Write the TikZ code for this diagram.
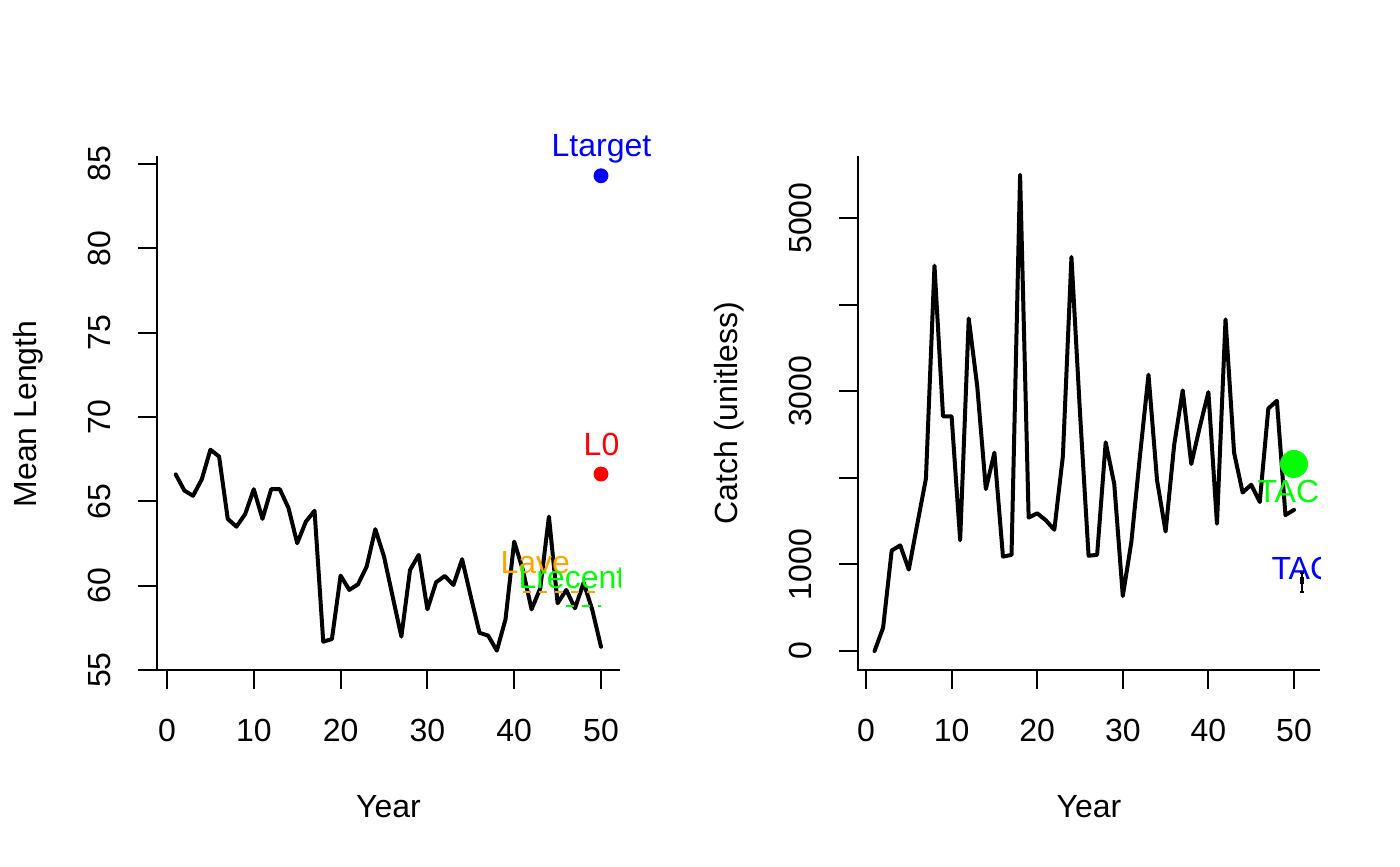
\documentclass[tikz,border=0pt]{standalone}
\usepackage{fontspec}
\setmainfont{Liberation Sans}
\definecolor{rorange}{RGB}{255,165,0}
\definecolor{rgreen}{RGB}{0,255,0}
\definecolor{rblue}{RGB}{0,0,255}
\definecolor{rred}{RGB}{255,0,0}
\begin{document}
\begin{tikzpicture}[x=0.375pt, y=-0.375pt,
    every node/.style={font=\fontsize{12}{14}\selectfont, inner sep=0pt},
    axisline/.style={line width=0.75pt},
    series/.style={line width=1.5pt, line join=round, line cap=round},
    refline/.style={line width=0.75pt, dash pattern=on 3pt off 3pt},
    refdot/.style={circle, fill, inner sep=0pt, minimum size=#1},
    lab/.style={anchor=base}]
  \useasboundingbox (0,0) rectangle (1400,866);

  % left panel: mean length
  \draw[axisline] (157,156) -- (157,670) -- (620,670);
  \foreach \yr in {0,10,...,50} {
    \draw[axisline] (167+8.68*\yr,670) -- (167+8.68*\yr,689);
    \node[lab] (lx\yr) at (167+8.68*\yr,741) {\yr};
  }
  \foreach \v in {55,60,...,85} {
    \draw[axisline] (138,1597.9-16.87*\v) -- (157,1597.9-16.87*\v);
    \node[lab, rotate=90] (ly\v) at (110.5,1597.9-16.87*\v) {\v};
  }
  \node[lab, rotate=90] (ylabl) at (36,414) {Mean Length};
  \node[lab] (xlabl) at (388.5,817) {Year};
  \node[lab, rblue] (ltarget) at (601.5,156) {Ltarget};
  \node[lab, rred] (lzero) at (601.5,455) {L0};
  \begin{scope}
    \clip (157,156) rectangle (620,670);
    \begin{scope}[shift={(167,1597.9)}, xscale=8.68, yscale=-16.87]
      \draw[series] plot coordinates {(1,66.6) (2,65.64) (3,65.33) (4,66.3) (5,68.06)
        (6,67.66) (7,63.96) (8,63.5) (9,64.24) (10,65.72) (11,63.96) (12,65.72)
        (13,65.72) (14,64.6) (15,62.52) (16,63.8) (17,64.44) (18,56.68) (19,56.84)
        (20,60.6) (21,59.75) (22,60.08) (23,61.13) (24,63.35) (25,61.73) (26,59.35)
        (27,56.98) (28,60.93) (29,61.83) (30,58.6) (31,60.2) (32,60.58) (33,60.04)
        (34,61.57) (35,59.35) (36,57.21) (37,57.04) (38,56.15) (39,58.01) (40,62.62)
        (41,60.93) (42,58.6) (43,59.84) (44,64.1) (45,58.96) (46,59.75) (47,58.66)
        (48,60.18) (49,58.56) (50,56.38)};
      \draw[refline, rorange] (41,59.65) -- (50,59.65);
      \draw[refline, rgreen] (46,58.8) -- (50,58.8);
      \node[refdot=5.6pt, rblue] (ltdot) at (50,84.3) {};
      \node[refdot=5.6pt, rred] (lzdot) at (50,66.62) {};
    \end{scope}
    \node[lab, anchor=base west, rorange] (lave) at (500,573) {Lave};
    \node[lab, anchor=base west, rgreen] (lrecent) at (518,588) {Lrecent};
  \end{scope}

  % right panel: catch
  \draw[axisline] (858,156) -- (858,670) -- (1320,670);
  \foreach \yr in {0,10,...,50} {
    \draw[axisline] (866+8.56*\yr,670) -- (866+8.56*\yr,689);
    \node[lab] (rx\yr) at (866+8.56*\yr,741) {\yr};
  }
  \foreach \k in {0,...,5}
    \draw[axisline] (839,651-86.6*\k) -- (858,651-86.6*\k);
  \foreach \k/\txt in {0/0,1/1000,3/3000,5/5000}
    \node[lab, rotate=90] (ry\k) at (811.5,651-86.6*\k) {\txt};
  \node[lab, rotate=90] (ylabr) at (737,413) {Catch (unitless)};
  \node[lab] (xlabr) at (1089,817) {Year};
  \begin{scope}
    \clip (858,156) rectangle (1320,670);
    \begin{scope}[shift={(866,651)}, xscale=8.56, yscale=-86.6]
      \draw[series] plot coordinates {(1,0) (2,0.27) (3,1.16) (4,1.22) (5,0.94)
        (6,1.47) (7,1.99) (8,4.45) (9,2.71) (10,2.71) (11,1.28) (12,3.84) (13,3.05)
        (14,1.87) (15,2.29) (16,1.09) (17,1.11) (18,5.5) (19,1.54) (20,1.59)
        (21,1.51) (22,1.4) (23,2.25) (24,4.55) (25,2.75) (26,1.1) (27,1.11)
        (28,2.41) (29,1.93) (30,0.635) (31,1.26) (32,2.25) (33,3.19) (34,1.97)
        (35,1.38) (36,2.38) (37,3.01) (38,2.16) (39,2.59) (40,2.99) (41,1.47)
        (42,3.83) (43,2.29) (44,1.83) (45,1.92) (46,1.72) (47,2.8) (48,2.89)
        (49,1.57) (50,1.63)};
      \node[refdot=10.5pt, rgreen] (tacdot) at (50,2.16) {};
    \end{scope}
    \node[lab, anchor=base west, rgreen] (tacg) at (1257,502) {TAC};
    \node[lab, anchor=base west, rblue] (tacb) at (1271,579) {TAC};
    \draw[axisline] (1302,573) -- (1302,592);
    \draw[axisline] (1300,573) -- (1304,573);
    \draw[axisline] (1300,592) -- (1304,592);
    \fill (1300.2,577) rectangle (1303.8,583.5);
  \end{scope}
\end{tikzpicture}
\end{document}
